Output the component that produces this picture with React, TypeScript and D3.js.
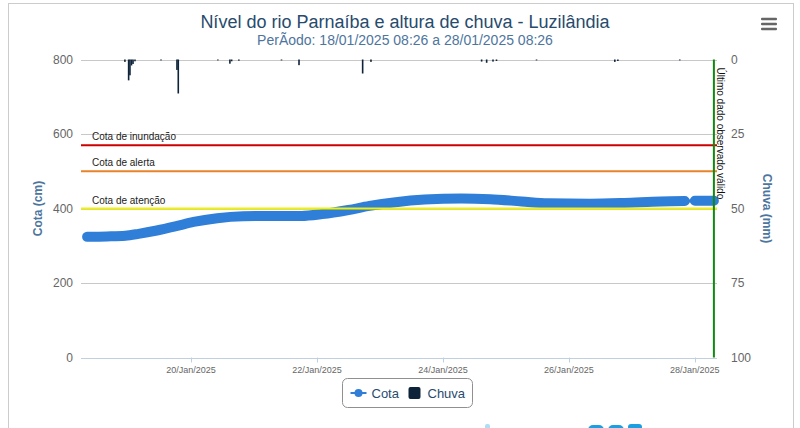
import { useEffect, useRef } from 'react';
import * as d3 from 'd3';

// Cota (cm); null marks the short gap before 28/Jan
const cotaTimes = [
    '2025-01-18 08:26', '2025-01-18 16:00', '2025-01-18 23:00', '2025-01-19 04:00',
    '2025-01-19 11:00', '2025-01-19 18:00', '2025-01-20 01:00', '2025-01-20 10:00',
    '2025-01-20 20:00', '2025-01-21 08:00', '2025-01-21 18:00', '2025-01-22 02:00',
    '2025-01-22 12:00', '2025-01-22 20:00', '2025-01-23 06:00', '2025-01-23 17:00',
    '2025-01-24 07:00', '2025-01-24 18:00', '2025-01-25 06:00', '2025-01-25 16:00',
    '2025-01-26 08:00', '2025-01-26 21:00', '2025-01-27 11:00', '2025-01-27 20:10',
    '2025-01-27 22:00', '2025-01-28 00:00', '2025-01-28 07:15',
];
const cotaValues: (number | null)[] = [
    324, 325, 327, 332,
    341, 352, 364, 374,
    379, 380, 380, 385,
    396, 407, 417, 424,
    427, 425, 419, 414,
    413, 415, 419, 420,
    null, 421, 421,
];

// Chuva (mm)
const chuvaTimes = [
    '2025-01-18 22:50', '2025-01-19 00:15', '2025-01-19 00:45', '2025-01-19 01:20',
    '2025-01-19 01:55', '2025-01-19 02:40', '2025-01-19 12:35', '2025-01-19 18:40',
    '2025-01-19 19:10', '2025-01-20 10:15', '2025-01-20 14:50', '2025-01-20 15:30',
    '2025-01-20 18:15', '2025-01-21 10:30', '2025-01-21 17:10', '2025-01-22 17:25',
    '2025-01-22 20:35', '2025-01-24 14:45', '2025-01-24 16:40', '2025-01-24 19:05',
    '2025-01-24 20:25', '2025-01-25 11:40', '2025-01-26 17:30', '2025-01-26 18:40',
    '2025-01-27 18:15',
];
const chuvaValues = [
    0.8, 7.0, 5.3, 2.0,
    1.5, 0.6, 0.3, 3.5,
    11.4, 0.3, 1.4, 0.6,
    0.4, 0.3, 1.9, 4.7,
    0.8, 0.7, 1.1, 0.7,
    0.5, 0.3, 0.8, 0.5,
    0.3,
];

const levelValues = [570, 500, 400];
const levelNames = ['Cota de inundação', 'Cota de alerta', 'Cota de atenção'];

const lastValidTime = '2025-01-28 07:15';
const xDomain = ['2025-01-18 06:06', '2025-01-28 08:26'];
const xTickDates = ['2025-01-20 00:00', '2025-01-22 00:00', '2025-01-24 00:00', '2025-01-26 00:00', '2025-01-28 00:00'];
const cotaTicks = [0, 200, 400, 600, 800];
const chuvaTicks = [0, 25, 50, 75, 100];

const titleText = 'Nível do rio Parnaíba e altura de chuva - Luzilândia';
const subtitleText = 'PerÃodo: 18/01/2025 08:26 a 28/01/2025 08:26';

const FONT = '"Liberation Sans", Arial, sans-serif';

export default function App() {
    const svgRef = useRef<SVGSVGElement>(null);

    useEffect(() => {
        if (!svgRef.current) return;
        const svg = d3.select(svgRef.current);
        svg.selectAll('*').remove();
        svg.attr('font-family', FONT);

        const parse = d3.timeParse('%Y-%m-%d %H:%M');
        const left = 81, right = 717, top = 59.5, bottom = 357.5;

        const x = d3.scaleTime()
            .domain(xDomain.map(d => parse(d) as Date))
            .range([left, right]);
        const y = d3.scaleLinear().domain([0, 800]).range([bottom, top]);
        const yRain = d3.scaleLinear().domain([0, 100]).range([top, bottom]);

        // outer frame
        svg.append('rect')
            .attr('x', 8.5).attr('y', 3.5)
            .attr('width', 785).attr('height', 500)
            .attr('fill', '#fff')
            .attr('stroke', '#cccccc');

        // titles
        svg.append('text')
            .attr('x', 405).attr('y', 28)
            .attr('text-anchor', 'middle')
            .attr('font-size', 18)
            .attr('fill', '#274b6d')
            .text(titleText);
        svg.append('text')
            .attr('x', 405).attr('y', 45)
            .attr('text-anchor', 'middle')
            .attr('font-size', 14)
            .attr('fill', '#4d759e')
            .text(subtitleText);

        // menu icon
        [19, 24, 29].forEach(cy => {
            svg.append('rect')
                .attr('x', 761).attr('y', cy - 1.25)
                .attr('width', 16).attr('height', 2.5)
                .attr('rx', 1)
                .attr('fill', '#666');
        });

        // grid
        svg.append('g')
            .selectAll('line')
            .data(cotaTicks.filter(d => d > 0))
            .join('line')
            .attr('x1', left).attr('x2', right)
            .attr('y1', d => Math.round(y(d)) + 0.5)
            .attr('y2', d => Math.round(y(d)) + 0.5)
            .attr('stroke', '#c8c8c8');

        // left axis labels
        svg.append('g')
            .selectAll('text')
            .data(cotaTicks)
            .join('text')
            .attr('x', 73)
            .attr('y', d => y(d) + 4)
            .attr('text-anchor', 'end')
            .attr('font-size', 12)
            .attr('fill', '#666')
            .text(d => d);

        // right axis labels
        svg.append('g')
            .selectAll('text')
            .data(chuvaTicks)
            .join('text')
            .attr('x', 731)
            .attr('y', d => yRain(d) + 4)
            .attr('font-size', 12)
            .attr('fill', '#666')
            .text(d => d);

        // axis titles
        svg.append('text')
            .attr('transform', `translate(42,${(top + bottom) / 2}) rotate(-90)`)
            .attr('text-anchor', 'middle')
            .attr('font-size', 12)
            .attr('font-weight', 'bold')
            .attr('fill', '#4d759e')
            .text('Cota (cm)');
        svg.append('text')
            .attr('transform', `translate(763,${(top + bottom) / 2}) rotate(90)`)
            .attr('text-anchor', 'middle')
            .attr('font-size', 12)
            .attr('font-weight', 'bold')
            .attr('fill', '#4d759e')
            .text('Chuva (mm)');

        // x axis
        const xTicks = xTickDates.map(d => parse(d) as Date);
        svg.append('line')
            .attr('x1', left).attr('x2', right)
            .attr('y1', Math.round(bottom) + 0.5).attr('y2', Math.round(bottom) + 0.5)
            .attr('stroke', '#c0d0e0');
        svg.append('g')
            .selectAll('line')
            .data(xTicks)
            .join('line')
            .attr('x1', d => Math.round(x(d)) + 0.5)
            .attr('x2', d => Math.round(x(d)) + 0.5)
            .attr('y1', bottom).attr('y2', bottom + 5)
            .attr('stroke', '#c0d0e0');
        svg.append('g')
            .selectAll('text')
            .data(xTicks)
            .join('text')
            .attr('x', d => x(d))
            .attr('y', bottom + 15)
            .attr('text-anchor', 'middle')
            .attr('font-size', 9)
            .attr('fill', '#666')
            .text(d => d3.timeFormat('%d/%b/%Y')(d));

        // rain bars hanging from the top
        svg.append('g')
            .selectAll('rect')
            .data(chuvaTimes.map((t, i) => ({ date: parse(t) as Date, value: chuvaValues[i] })))
            .join('rect')
            .attr('x', d => x(d.date) - 0.8)
            .attr('y', top)
            .attr('width', 1.6)
            .attr('height', d => yRain(d.value) - top)
            .attr('fill', '#0d233a');

        // cota series
        const cota = cotaTimes.map((t, i) => ({ date: parse(t) as Date, value: cotaValues[i] }));
        const cotaLine = d3.line<{ date: Date; value: number | null }>()
            .defined(d => d.value !== null)
            .x(d => x(d.date))
            .y(d => y(d.value as number))
            .curve(d3.curveMonotoneX);

        svg.append('path')
            .attr('d', cotaLine(cota.filter(d => d.value !== null)))
            .attr('fill', 'none')
            .attr('stroke', '#2f7ed8')
            .attr('stroke-width', 3);
        svg.append('path')
            .attr('d', cotaLine(cota))
            .attr('fill', 'none')
            .attr('stroke', '#2f7ed8')
            .attr('stroke-width', 10)
            .attr('stroke-linecap', 'round')
            .attr('stroke-linejoin', 'round');

        // reference levels
        const levelColors = ['#cc0000', '#e8832a', '#f2f200'];
        levelValues.forEach((v, i) => {
            svg.append('line')
                .attr('x1', left).attr('x2', right)
                .attr('y1', y(v)).attr('y2', y(v))
                .attr('stroke', levelColors[i])
                .attr('stroke-width', 2);
            svg.append('text')
                .attr('x', 92)
                .attr('y', y(v) - 5)
                .attr('font-size', 10)
                .attr('fill', '#222')
                .text(levelNames[i]);
        });

        // last valid observation
        const lx = x(parse(lastValidTime) as Date);
        svg.append('line')
            .attr('x1', lx).attr('x2', lx)
            .attr('y1', top).attr('y2', bottom)
            .attr('stroke', '#118811')
            .attr('stroke-width', 2);
        svg.append('text')
            .attr('transform', `translate(${lx + 3},${top + 8}) rotate(90)`)
            .attr('font-size', 10)
            .attr('fill', '#111')
            .text('Último dado observado válido');

        // legend
        const lg = svg.append('g').attr('transform', 'translate(342.5,378.5)');
        lg.append('rect')
            .attr('width', 130).attr('height', 29)
            .attr('rx', 5)
            .attr('fill', '#fff')
            .attr('stroke', '#909090');
        lg.append('line')
            .attr('x1', 8).attr('x2', 24)
            .attr('y1', 14.5).attr('y2', 14.5)
            .attr('stroke', '#2f7ed8')
            .attr('stroke-width', 2);
        lg.append('circle')
            .attr('cx', 16).attr('cy', 14.5).attr('r', 4)
            .attr('fill', '#2f7ed8');
        lg.append('text')
            .attr('x', 29).attr('y', 19)
            .attr('font-size', 13)
            .attr('fill', '#274b6d')
            .text('Cota');
        lg.append('rect')
            .attr('x', 66).attr('y', 8.5)
            .attr('width', 12).attr('height', 12)
            .attr('rx', 2)
            .attr('fill', '#0d233a');
        lg.append('text')
            .attr('x', 85).attr('y', 19)
            .attr('font-size', 13)
            .attr('fill', '#274b6d')
            .text('Chuva');

        // watermark peeking at the bottom edge
        const wm = svg.append('g').attr('fill', '#1b9fe3');
        wm.append('rect').attr('x', 485).attr('y', 424).attr('width', 5).attr('height', 10).attr('rx', 2).attr('opacity', 0.35);
        wm.append('rect').attr('x', 588).attr('y', 425).attr('width', 16).attr('height', 10).attr('rx', 5);
        wm.append('rect').attr('x', 608).attr('y', 425).attr('width', 16).attr('height', 10).attr('rx', 5);
        wm.append('rect').attr('x', 628).attr('y', 424).attr('width', 14).attr('height', 10).attr('rx', 3);
    }, []);

    return (
        <div style={{ position: 'absolute', left: 0, top: 0 }}>
            <svg ref={svgRef} width={800} height={428} style={{ display: 'block' }} />
        </div>
    );
}
